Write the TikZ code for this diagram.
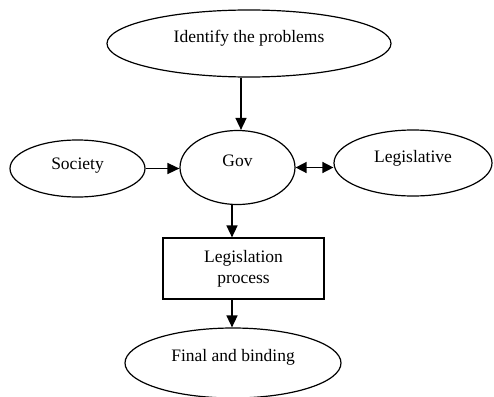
\documentclass[tikz,border=0pt]{standalone}
\usepackage{fontspec}
\setmainfont{Liberation Serif}
\usetikzlibrary{shapes.geometric,arrows.meta}
\begin{document}
\begin{tikzpicture}[x=1pt,y=-1pt,
  every node/.style={font=\fontsize{17.5}{21}\selectfont},
  ell/.style={draw,ellipse,line width=1.2pt,inner sep=0pt},
  arr/.style={line width=1.5pt,-{Triangle[length=12pt,width=11pt]}},
  darr/.style={line width=1.5pt,{Triangle[length=11pt,width=11pt]}-{Triangle[length=11pt,width=11pt]}}]
\useasboundingbox (0,0) rectangle (494,396);
\fill[white] (0,0) rectangle (494,396);
\node[ell,minimum width=284pt,minimum height=67pt,label={[yshift=5pt]center:Identify the problems}] (top) at (249,43.5) {};
\node[ell,minimum width=115pt,minimum height=74pt,label={[yshift=7pt]center:Gov}] (gov) at (237.5,167.5) {};
\node[ell,minimum width=135pt,minimum height=57pt,label={[yshift=3pt]center:Society}] (soc) at (77.5,168.5) {};
\node[ell,minimum width=158pt,minimum height=66pt,label={[yshift=5pt]center:Legislative}] (leg) at (413,163) {};
\node[draw,line width=1.2pt,minimum width=161pt,minimum height=61pt,align=center,inner sep=0pt] (box) at (243.5,268.5) {Legislation\\process};
\node[ell,minimum width=216pt,minimum height=70pt,label={[yshift=6pt]center:Final and binding}] (fin) at (233,363) {};
\draw[arr] ([xshift=-8pt]top.south) -- ([xshift=3.5pt]gov.north);
\draw[arr] (soc.east) -- (soc.east -| gov.west);
\draw[darr] (gov.east) -- (gov.east -| leg.west);
\draw[arr] ([xshift=-5.5pt]gov.south) -- ([xshift=-11.5pt]box.north);
\draw[arr] ([xshift=-11.5pt]box.south) -- ([xshift=-1pt]fin.north);
\end{tikzpicture}
\end{document}
